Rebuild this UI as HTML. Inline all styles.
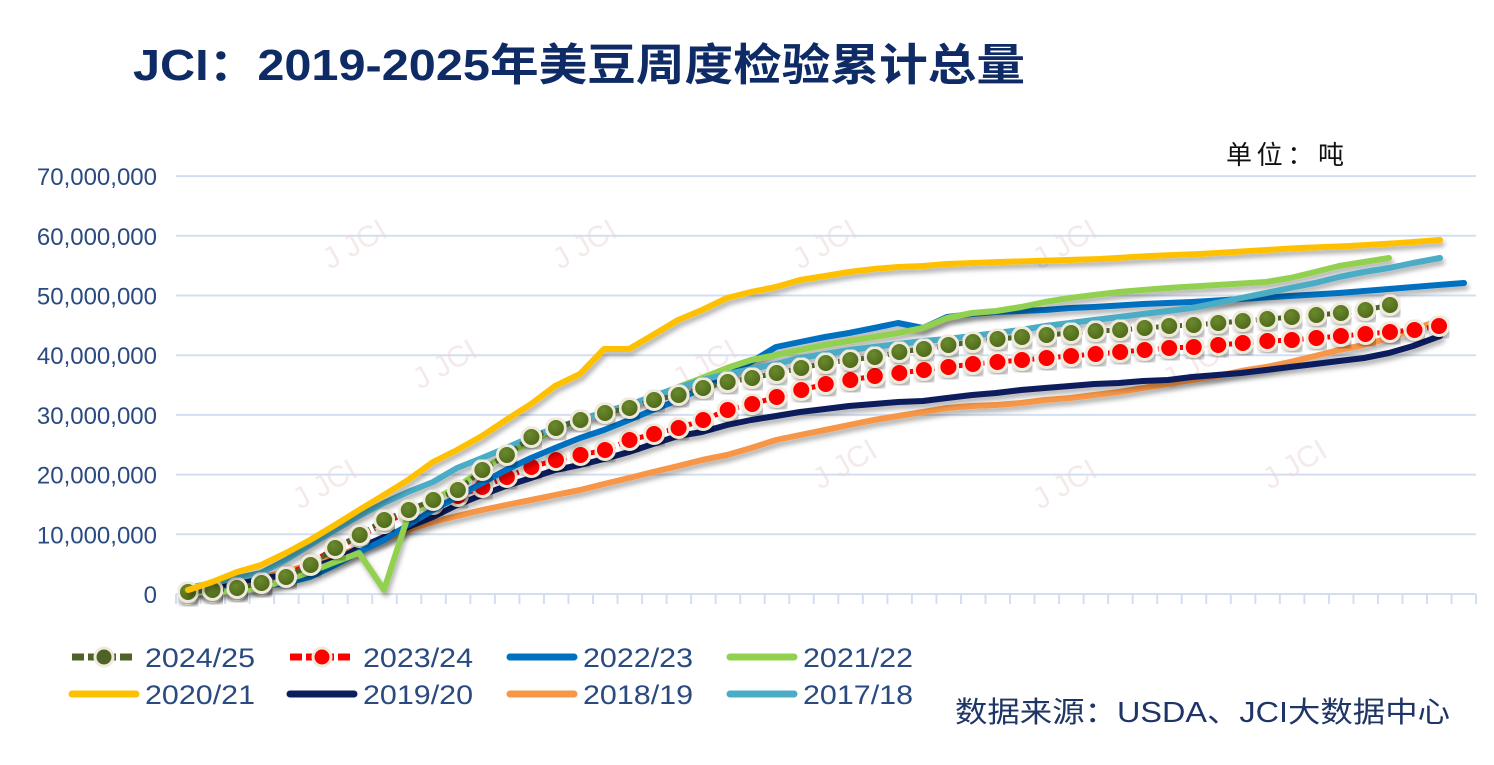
<!DOCTYPE html>
<html><head><meta charset="utf-8"><style>
body{margin:0;background:#fff;}
svg{display:block;font-family:"Liberation Sans","Noto Sans CJK SC",sans-serif;}
</style></head><body>
<svg id="c" width="1494" height="765" xmlns="http://www.w3.org/2000/svg">
<defs><filter id="sh" x="-5%" y="-5%" width="110%" height="120%"><feDropShadow dx="2" dy="4" stdDeviation="2.5" flood-color="#000" flood-opacity="0.3"/></filter>
<radialGradient id="og" cx="0.4" cy="0.35" r="0.7"><stop offset="0" stop-color="#6b8a2e"/><stop offset="1" stop-color="#4a6418"/></radialGradient></defs>
<text x="133" y="80" font-size="44" font-weight="bold" fill="#0f2b66" textLength="892" lengthAdjust="spacingAndGlyphs">JCI：2019-2025年美豆周度检验累计总量</text>
<text x="1226" y="164" font-size="26" fill="#111" textLength="118">单位：吨</text>
<g id="grid"></g>
<g id="series"></g>
<g id="legend" font-size="27" fill="#2a4a80"></g>
<text x="955" y="722" font-size="29" fill="#1f3566" textLength="495" lengthAdjust="spacingAndGlyphs">数据来源：USDA、JCI大数据中心</text>
</svg>
<script>
const NS="http://www.w3.org/2000/svg";
function el(t,a,p){const e=document.createElementNS(NS,t);for(const k in a)e.setAttribute(k,a[k]);(p||document.getElementById('series')).appendChild(e);return e;}
const g=document.getElementById('grid');
const labs=["0","10,000,000","20,000,000","30,000,000","40,000,000","50,000,000","60,000,000","70,000,000"];
for(let i=0;i<8;i++){const y=594-i*59.7;el('line',{x1:176,x2:1476,y1:y,y2:y,stroke:'#d3dff0','stroke-width':2},g);
const t=el('text',{x:157,y:y+9,'text-anchor':'end','font-size':24,fill:'#2a4a80'},g);t.textContent=labs[i];}
for(let k=0;k<=53;k++){const x=176+24.53*k;el('line',{x1:x,x2:x,y1:594,y2:604,stroke:'#d3dff0','stroke-width':2},g);}
[[330,270],[560,270],[800,270],[1040,270],[420,390],[680,390],[1170,390],[300,510],[820,490],[1040,510],[1270,490]].forEach(p=>{const t=el('text',{x:p[0],y:p[1],'font-size':30,fill:'#ecd6d6',transform:`rotate(-30 ${p[0]} ${p[1]})`,opacity:0.5},g);t.textContent="J JCI";});
const X=[];for(let i=0;i<53;i++)X.push(188+24.53*i);
function P(a){return a.map(p=>p.join(',')).join(' ');}
const S={
or:[[188,592],[237,583],[286,572],[335,556],[384,540],[408,530],[433,522],[457,516],[482,510],[506,505],[531,500],[555,495],[580,490],[604,484],[629,478],[653,472],[678,466],[702,460],[727,455],[751,448],[776,440],[800,435],[825,430],[849,425],[874,420],[898,416],[923,412],[947,408],[972,406],[996,405],[1021,403],[1045,400],[1070,398],[1094,395],[1119,392],[1143,388],[1168,384],[1192,380],[1217,376],[1241,371],[1266,367],[1290,362],[1315,356],[1339,350],[1364,345],[1389,338],[1413,330],[1440,320]],
nv:[[188,592],[237,582],[286,575],[335,560],[359,548],[384,537],[408,527],[433,517],[457,505],[482,495],[506,486],[531,478],[555,470],[580,465],[604,459],[629,452],[653,444],[678,436],[702,432],[727,425],[751,420],[776,416],[800,412],[825,409],[849,406],[874,404],[898,402],[923,401],[947,398],[972,395],[996,393],[1021,390],[1045,388],[1070,386],[1094,384],[1119,383],[1143,381],[1168,380],[1192,377],[1217,375],[1241,373],[1266,370],[1290,367],[1315,364],[1339,361],[1364,358],[1389,353],[1413,346],[1440,336]],
bl:[[188,592],[237,590],[286,583],[310,577],[335,565],[359,552],[384,540],[408,525],[433,510],[457,497],[482,483],[506,470],[531,458],[555,448],[580,438],[604,430],[629,420],[653,410],[678,400],[702,388],[727,376],[751,362],[776,347],[800,342],[825,337],[849,333],[874,328],[898,323],[923,328],[947,317],[972,314],[996,312],[1021,311],[1045,310],[1070,308],[1094,307],[1143,304],[1192,302],[1241,299],[1290,296],[1339,293],[1389,289],[1438,285],[1464,283]],
gr:[[188,593],[237,591],[261,588],[286,580],[310,572],[335,562],[359,553],[372,572],[384,590],[408,516],[433,500],[457,487],[482,470],[506,455],[531,442],[555,430],[580,420],[604,412],[629,405],[653,397],[678,387],[702,378],[727,368],[751,360],[776,355],[800,350],[825,345],[849,341],[874,337],[898,333],[923,328],[947,318],[972,313],[996,311],[1021,307],[1045,302],[1070,298],[1094,295],[1119,292],[1143,290],[1168,288],[1217,285],[1266,282],[1290,278],[1315,272],[1339,266],[1364,262],[1389,258]],
tl:[[188,588],[237,578],[261,573],[286,560],[310,545],[335,530],[359,516],[384,503],[408,492],[433,482],[457,468],[482,458],[506,448],[531,437],[555,428],[580,420],[604,412],[629,405],[653,396],[678,388],[702,380],[727,374],[751,369],[776,364],[800,358],[825,354],[849,350],[874,347],[898,344],[923,341],[947,339],[972,336],[996,333],[1021,330],[1045,326],[1070,323],[1094,320],[1119,317],[1143,314],[1168,311],[1192,308],[1217,303],[1241,298],[1266,293],[1290,288],[1315,283],[1339,277],[1364,272],[1389,268],[1413,263],[1440,258]],
ye:[[188,590],[212,582],[237,572],[261,565],[286,553],[310,540],[335,525],[359,510],[384,495],[408,480],[433,462],[457,450],[482,436],[506,420],[531,404],[555,386],[580,374],[604,349],[629,349],[653,335],[678,320],[702,310],[727,298],[751,292],[776,287],[800,280],[825,276],[849,272],[874,269],[898,267],[923,266],[947,264],[1000,262],[1100,259],[1150,256],[1200,254],[1250,251],[1300,248],[1350,246],[1400,243],[1440,240]]
};
const rd=[594,592,590,585,575,563,548,537,523,512,504,496,487,477,467,460,455,450,440,434,428,420,410,404,397,390,384,380,376,373,370,367,364,362,360,358,356,354,352,350,348,347,345,343,341,340,338,336,334,332,330,326];
const ol=[592,590,588,583,577,565,548,535,520,510,500,490,470,455,437,428,420,413,408,400,395,388,382,378,373,368,363,360,357,352,349,345,342,339,337,335,333,331,330,328,326,325,323,321,319,317,315,313,310,305];
function line(pts,c,w){el('polyline',{points:P(pts),fill:'none',stroke:c,'stroke-width':w,'stroke-linecap':'round','stroke-linejoin':'round',filter:'url(#sh)'});}
line(S.or,'#f79646',6);line(S.nv,'#0a1f5c',6);
function dots(arr,fill,lc){const pts=arr.map((y,i)=>[X[i],y]);
el('polyline',{points:P(pts),fill:'none',stroke:lc,'stroke-width':5,'stroke-dasharray':'6 4'});
pts.forEach(p=>el('circle',{cx:p[0],cy:p[1],r:9.5,fill:fill,stroke:'#efeadb','stroke-width':3,filter:'url(#sh)'}));}
dots(rd,'#ff0000','#ff0000');
line(S.bl,'#0070c0',6);line(S.gr,'#92d050',6);line(S.tl,'#4bacc6',6);
dots(ol,'url(#og)','#4f6228');
line(S.ye,'#ffc000',6);
const L=document.getElementById('legend');
const items=[["2024/25",'#4f6228','ol'],["2023/24",'#ff0000','rd'],["2022/23",'#0070c0'],["2021/22",'#92d050'],["2020/21",'#ffc000'],["2019/20",'#0a1f5c'],["2018/19",'#f79646'],["2017/18",'#4bacc6']];
const cx=[72,290,510,730];
items.forEach((it,i)=>{const x=cx[i%4],y=i<4?657:694;
el('line',{x1:x,x2:x+64,y1:y,y2:y,stroke:it[1],'stroke-width':7,'stroke-dasharray':it[2]?'12 4':'none','stroke-linecap':it[2]?'butt':'round'},L);
if(it[2])el('circle',{cx:x+32,cy:y,r:9,fill:it[2]=='ol'?'#4f6228':'#ff0000',stroke:'#efeadb','stroke-width':3},L);
const t=el('text',{x:x+73,y:y+10,textLength:110,lengthAdjust:'spacingAndGlyphs'},L);t.textContent=it[0];});
</script>
</body></html>
